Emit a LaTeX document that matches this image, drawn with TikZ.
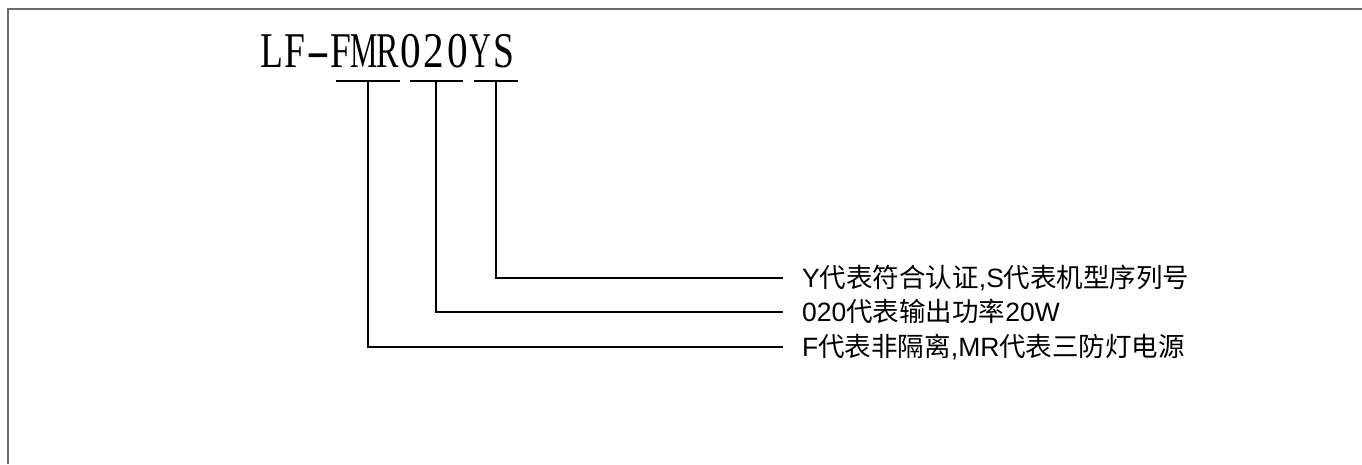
\documentclass[tikz,border=0pt]{standalone}
\usepackage{fontspec}
\usepackage{graphicx}
\setmainfont{Liberation Sans}
\newfontfamily\cjk{Noto Sans CJK SC}
\newfontfamily\titlefont[FakeStretch=0.75]{Liberation Serif}
\newcommand{\tc}[2][1]{\makebox[23.2pt][c]{\scalebox{#1}[1]{#2}}}
\begin{document}
\begin{tikzpicture}[x=1pt,y=-1pt,
  frame/.style={draw=black!58,line width=1.4pt},
  conn/.style={draw=black,line width=1.3pt},
  lbl/.style={anchor=base west,inner sep=0pt,font=\fontsize{26.5}{30}\selectfont},
  ttl/.style={anchor=base west,inner sep=0pt,font=\titlefont\fontsize{50}{54}\selectfont}]
\useasboundingbox (0,0) rectangle (1362,464);
% frame (top and left edges only visible)
\draw[frame] (1362,9) -- (8,9) -- (8,464);
% title
\node[ttl] (title) at (260,67) {\tc{L}\tc{F}\tc[1.9]{-}\tc{F}\tc[0.82]{M}\tc[0.9]{R}\tc[1.1]{0}\tc[1.1]{2}\tc[1.1]{0}\tc[0.8]{Y}\tc{S}};
% underline segments
\coordinate (u1a) at (336,81); \coordinate (u1b) at (400,81);
\coordinate (u2a) at (410,81); \coordinate (u2b) at (463,81);
\coordinate (u3a) at (474,81); \coordinate (u3b) at (518,81);
\draw[conn] (u1a) -- (u1b);
\draw[conn] (u2a) -- (u2b);
\draw[conn] (u3a) -- (u3b);
\coordinate (v1) at (368,81);
\coordinate (v2) at (436,81);
\coordinate (v3) at (496,81);
% labels
\node[lbl] (t3) at (802,287) {Y{\cjk 代表符合认证},S{\cjk 代表机型序列号}};
\node[lbl] (t2) at (802,321) {020{\cjk 代表输出功率}20W};
\node[lbl] (t1) at (802,356) {F{\cjk 代表非隔离},MR{\cjk 代表三防灯电源}};
\coordinate (e3) at (783,278);
\coordinate (e2) at (783,312);
\coordinate (e1) at (783,347);
% connectors
\draw[conn] (v3) |- (e3);
\draw[conn] (v2) |- (e2);
\draw[conn] (v1) |- (e1);
\end{tikzpicture}
\end{document}
